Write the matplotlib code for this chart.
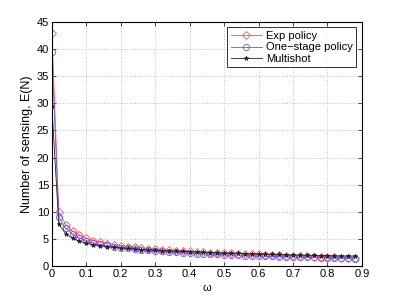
import numpy as np
import matplotlib
matplotlib.use("Agg")
import matplotlib.pyplot as plt

omega = [0.0, 0.02, 0.04, 0.06, 0.08, 0.10, 0.12, 0.14, 0.16, 0.18,
         0.20, 0.22, 0.24, 0.26, 0.28, 0.30, 0.32, 0.34, 0.36, 0.38,
         0.40, 0.42, 0.44, 0.46, 0.48, 0.50, 0.52, 0.54, 0.56, 0.58,
         0.60, 0.62, 0.64, 0.66, 0.68, 0.70, 0.72, 0.74, 0.76, 0.78,
         0.80, 0.82, 0.84, 0.86, 0.88]

exp_policy = [43.0, 10.0, 7.6, 6.4, 5.7, 5.1, 4.7, 4.4, 4.15, 3.95,
              3.75, 3.6, 3.45, 3.35, 3.2, 3.1, 3.0, 2.9, 2.85, 2.75,
              2.7, 2.6, 2.55, 2.5, 2.45, 2.4, 2.35, 2.3, 2.25, 2.2,
              2.15, 2.1, 2.05, 2.0, 1.95, 1.9, 1.85, 1.8, 1.75, 1.7,
              1.65, 1.6, 1.55, 1.5, 1.5]

one_stage = [39.5, 9.0, 7.0, 5.9, 5.2, 4.7, 4.3, 4.0, 3.8, 3.6,
             3.4, 3.25, 3.1, 3.0, 2.9, 2.8, 2.7, 2.6, 2.55, 2.45,
             2.4, 2.3, 2.25, 2.2, 2.15, 2.1, 2.05, 2.0, 1.95, 1.9,
             1.85, 1.8, 1.78, 1.75, 1.72, 1.7, 1.65, 1.62, 1.6, 1.55,
             1.5, 1.48, 1.45, 1.42, 1.4]

multishot = [29.5, 7.7, 6.0, 5.1, 4.6, 4.2, 3.95, 3.75, 3.6, 3.45,
             3.35, 3.25, 3.15, 3.05, 3.0, 2.9, 2.85, 2.8, 2.75, 2.7,
             2.65, 2.6, 2.55, 2.5, 2.45, 2.42, 2.38, 2.35, 2.3, 2.27,
             2.23, 2.2, 2.17, 2.14, 2.1, 2.07, 2.04, 2.0, 1.98, 1.95,
             1.92, 1.9, 1.88, 1.86, 1.85]

plt.rcParams['font.family'] = ['Liberation Sans', 'DejaVu Sans']

red = '#ff5050'
blue = '#5a5aff'

fig = plt.figure(figsize=(3.99, 3.0), dpi=100)
ax = fig.add_axes([0.130, 0.113, 0.777, 0.814])

ax.plot(omega, exp_policy, '-', color=red, marker='D', mfc='none', mec=red,
        ms=4, lw=0.6, mew=0.6, label='Exp policy')
ax.plot(omega, one_stage, '-', color=blue, marker='o', mfc='none', mec=blue,
        ms=4.5, lw=0.6, mew=0.6, label='One\u2212stage policy')
ax.plot(omega, multishot, '-', color='#202020', marker='*', mfc='#202020', mec='#202020',
        ms=3.5, lw=0.6, mew=0.4, label='Multishot')

ax.set_xlim(0, 0.9)
ax.set_ylim(0, 45)
ax.set_xticks(np.arange(0, 0.91, 0.1))
ax.set_xticklabels(['0', '0.1', '0.2', '0.3', '0.4', '0.5', '0.6', '0.7', '0.8', '0.9'])
ax.set_yticks(range(0, 46, 5))
ax.tick_params(direction='in', length=3, width=0.5, labelsize=8, top=True, right=True, pad=2)
ax.grid(True, linestyle=':', color='#c0c0c0', linewidth=0.7)
for s in ax.spines.values():
    s.set_linewidth(0.8)

ax.set_xlabel('\u03c9', fontsize=8, labelpad=3)
ax.set_ylabel('Number of sensing, E(N)', fontsize=9, labelpad=3)

leg = ax.legend(loc='upper right', fontsize=8, frameon=True, fancybox=False,
                edgecolor='black', borderpad=0.3, labelspacing=0.15,
                handlelength=2.8, handletextpad=0.4, borderaxespad=0.5)
leg.get_frame().set_linewidth(0.7)

fig.savefig('out.png', dpi=100)
